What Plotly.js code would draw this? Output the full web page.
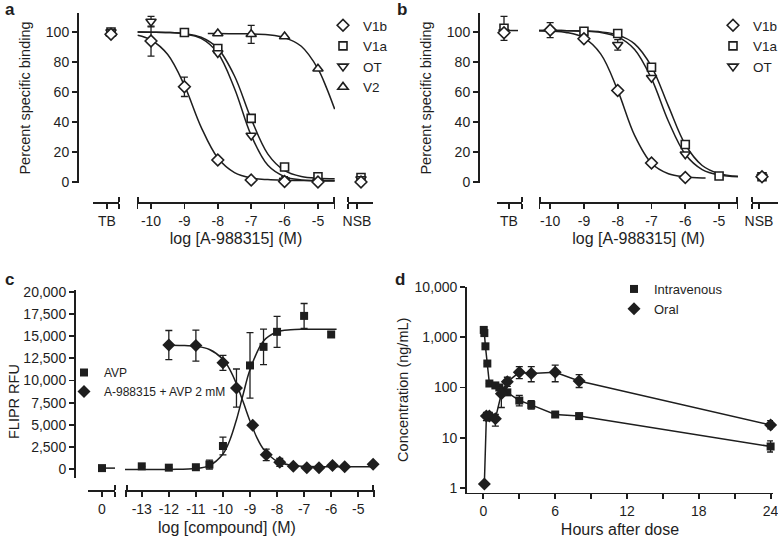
<!DOCTYPE html>
<html><head><meta charset="utf-8">
<script src="https://cdn.plot.ly/plotly-3.0.1.min.js"></script>
<style>html,body{margin:0;padding:0;background:#fff}#chart{width:778px;height:538px}</style>
</head><body><div id="chart"></div>
<script>
// ---------------- DATA ----------------
// Panel a (log M)
const a_V1b_x = [-10, -9, -8, -7, -6, -5];
const a_V1b_y = [94, 63.5, 14.7, 1.3, 0.3, 0];
const a_V1b_err = [10, 6.5, null, null, null, null];
const a_V1a_x = [-9, -8, -7, -6, -5];
const a_V1a_y = [99.7, 89, 42.4, 10, 3.5];
const a_V1a_err = [null, 2, null, null, null];
const a_OT_x = [-10, -8, -7, -6, -5];
const a_OT_y = [107, 86, 31, 1, 0.5];
const a_OT_err = [3.5, null, null, 2.5, null];
const a_V2_x = [-8, -7, -6, -5];
const a_V2_y = [99, 98.5, 97, 75.5];
const a_V2_err = [null, 6, null, null];
const a_TB_y = [98.5, 100, 100, 99];   // V1b, V1a, OT, V2
const a_NSB_y = [0, 3, 2, 1];
const a_fit_x = [-10.4, -10, -9.5, -9, -8.5, -8, -7.5, -7, -6.5, -6, -5.5, -5, -4.5];
const a_V1b_fit = [97.8, 94.7, 85.0, 64.4, 36.6, 16.0, 6.3, 2.7, 1.6, 1.2, 1.05, 1.0, 1.0];
const a_V1a_fit = [100, 99.9, 99.7, 98.9, 96.5, 89.1, 70.7, 42.1, 18.6, 7.6, 3.7, 2.5, 2.2];
const a_OT_fit = [100, 99.9, 99.7, 98.8, 95.8, 86.0, 62.4, 31.1, 11.1, 3.6, 1.4, 0.7, 0.6];
const a_V2_fit_x = [-8.3, -8, -7.5, -7, -6.5, -6, -5.5, -5, -4.75, -4.5];
const a_V2_fit = [99, 99, 98.9, 98.8, 98.2, 96.3, 90.5, 75.5, 63.1, 48.6];

// Panel b
const b_V1b_x = [-10, -9, -8, -7, -6];
const b_V1b_y = [101.3, 95.5, 61, 12.7, 3];
const b_V1b_err = [5, null, null, null, null];
const b_V1a_x = [-9, -8, -7, -6, -5];
const b_V1a_y = [100.5, 99, 76.5, 25, 4];
const b_OT_x = [-8, -7, -6];
const b_OT_y = [91.5, 69.5, 18.5];
const b_OT_err = [3.5, null, null];
const b_TB_y = [99.5, 102.5, 100];    // V1b, V1a, OT
const b_TB_err = [null, 8, null];
const b_NSB_y = [3.5, 3.5, 3.5];
const b_fit_x = [-10.33, -10, -9.5, -9, -8.5, -8, -7.5, -7, -6.5, -6, -5.5, -5, -4.44];
const b_V1b_fit_x = [-10.33, -10, -9.5, -9, -8.5, -8, -7.5, -7, -6.5, -6, -5.5, -5.4];
const b_V1b_fit = [100.8, 100.6, 99.6, 96.1, 85.3, 61.1, 31.1, 12.5, 5.5, 3.4, 2.7, 2.7];
const b_V1a_fit = [101, 101, 100.9, 100.7, 100.1, 98.1, 92.1, 77.0, 50.6, 25.0, 11.0, 5.6, 3.8];
const b_OT_fit = [101, 101, 100.9, 100.6, 99.7, 96.8, 88.4, 68.9, 40.5, 18.5, 8.3, 4.7, 3.5];
const b_TB_stub_x = [-0.5, 0.9];
const b_TB_stub_y = [101, 101];

// Panel c (log M, FLIPR RFU)
const c_AVP_x = [-13, -12, -11, -10.5, -10, -9, -8.5, -8, -7, -6];
const c_AVP_y = [300, 150, 200, 500, 2600, 11700, 13800, 15500, 17300, 15200];
const c_AVP_err = [null, null, null, 500, 1000, 3700, 2000, 1750, 1400, 300];
const c_AVP_zero_y = [100];
const c_ANT_x = [-12, -11, -10, -9.5, -8.9, -8.4, -7.9, -7.4, -6.9, -6.45, -5.95, -5.5, -4.45];
const c_ANT_y = [14000, 13950, 12000, 9150, 4950, 1600, 750, 300, 150, 150, 400, 250, 550];
const c_ANT_err = [1650, 1750, 850, 2150, null, 650, 450, null, null, null, null, null, null];
const c_AVP_fit_x = [-13.62, -12, -11, -10.5, -10, -9.75, -9.5, -9.25, -9, -8.5, -8, -7.5, -7, -6, -5.8];
const c_AVP_fit = [-50, -45, 47, 375, 1686, 3221, 5571, 8467, 11215, 14475, 15483, 15728, 15784, 15800, 15800];
const c_ANT_fit_x = [-12, -11.5, -11, -10.5, -10, -9.75, -9.5, -9.25, -9, -8.75, -8.5, -8, -7.5, -7, -6, -5, -4.38];
const c_ANT_fit = [13989, 13960, 13857, 13507, 12399, 11265, 9617, 7560, 5419, 3582, 2246, 878, 433, 302, 254, 250, 250];
const c_zero_stub_x = [0, 1.5];
const c_zero_stub_y = [100, 100];

// Panel d (hours, ng/mL)
const d_IV_t = [0.03, 0.08, 0.17, 0.33, 0.5, 1, 1.33, 1.67, 2, 3, 4, 6, 8, 24];
const d_IV_c = [1400, 1210, 660, 300, 120, 110, 100, 86, 80, 55, 45, 29, 27, 6.7];
const d_IV_errP = [null, null, null, null, null, null, null, null, null, 15, 10, 3, 3, 2];
const d_IV_errM = [null, null, null, null, null, null, null, null, null, 12, 8, 3, 3, 1.5];
const d_OR_t = [0.08, 0.25, 0.5, 1, 1.5, 2, 3, 4, 6, 8, 24];
const d_OR_c = [1.2, 27, 27, 24, 75, 130, 200, 190, 200, 135, 18];
const d_OR_errP = [null, 5, 5, 5, 25, 30, 60, 70, 80, 45, 4];
const d_OR_errM = [null, 5, 5, 7, 35, 25, 50, 60, 70, 35, 3];

// Tick labels
const abMainTicks = [-10, -9, -8, -7, -6, -5];
const abMainLabels = ['-10', '-9', '-8', '-7', '-6', '-5'];
const cMainTicks = [-13, -12, -11, -10, -9, -8, -7, -6, -5];
const cMainLabels = ['-13', '-12', '-11', '-10', '-9', '-8', '-7', '-6', '-5'];
const pctTicks = [0, 20, 40, 60, 80, 100];
const rfuTicks = [0, 2500, 5000, 7500, 10000, 12500, 15000, 17500, 20000];
const concTicks = [1, 10, 100, 1000, 10000];
const concLabels = ['1', '10', '100', '1,000', '10,000'];
const hourTicks = [0, 6, 12, 18, 24];

// ---------------- STYLE / LAYOUT ----------------
const INK = '#1e1e1e';
const FONT = 'Liberation Sans, Arial, Helvetica, sans-serif';
const TF = {family: FONT, size: 14, color: INK};
const XTITLEF = {family: FONT, size: 16, color: INK};
const YTITLEF = {family: FONT, size: 14.5, color: INK};
const W = 778, H = 538;
const X = p => p / W, Y = p => 1 - p / H;
const LW = 1.8;

function segAxis(L, R, range, tv, tt, yPos, capL, capR, title) {
  const vals = tv.slice(), txt = tt.slice(), caps = [];
  const e = (range[1] - range[0]) * 0.003;
  if (capL) { vals.push(range[0] + e); txt.push(''); caps.push(range[0] + 2.2 * e); }
  if (capR) { vals.push(range[1] - e); txt.push(''); caps.push(range[1] - 2.2 * e); }
  const ax = {
    domain: [X(L), X(R)], range: range, anchor: 'free', position: Y(yPos),
    showline: true, linecolor: INK, linewidth: LW, showgrid: false, zeroline: false,
    ticks: 'outside', ticklen: 5, tickwidth: LW, tickcolor: INK, ticklabeloverflow: 'allow',
    tickmode: 'array', tickvals: vals, ticktext: txt, tickfont: TF, fixedrange: true
  };
  if (caps.length) ax.minor = {tickmode: 'array', tickvals: caps, ticks: 'inside', ticklen: 5, tickwidth: LW, tickcolor: INK, showgrid: false};
  if (title) ax.title = {text: title, font: XTITLEF, standoff: 5};
  return ax;
}
function yAxis(xPos, top, bottom, range, tv, extra) {
  return Object.assign({
    domain: [Y(bottom), Y(top)], range: range, anchor: 'free', position: X(xPos),
    showline: true, linecolor: INK, linewidth: LW, showgrid: false, zeroline: false,
    ticks: 'outside', ticklen: 5, tickwidth: LW, tickcolor: INK, ticklabeloverflow: 'allow',
    tickmode: 'array', tickvals: tv, tickfont: TF, fixedrange: true
  }, extra || {});
}

const openM = (sym, size) => ({symbol: sym, size: size, color: 'white', line: {color: INK, width: 1.6}});
const fillM = (sym, size) => ({symbol: sym, size: size, color: INK, line: {color: INK, width: 0}});
const errY = arr => ({type: 'data', array: arr, visible: true, color: INK, thickness: 1.3, width: 3.5});
const errYA = (p, m) => ({type: 'data', symmetric: false, array: p, arrayminus: m, visible: true, color: INK, thickness: 1.3, width: 3.5});
function fit(x, y, xa, ya, shape) {
  return {x: x, y: y, xaxis: xa, yaxis: ya, mode: 'lines', showlegend: false, hoverinfo: 'skip',
    line: {color: INK, width: 1.5, shape: shape || 'spline', smoothing: 1}};
}
function pts(x, y, err, marker, xa, ya, name, legend, show, rank) {
  const t = {x: x, y: y, xaxis: xa, yaxis: ya, mode: 'markers', marker: marker, name: name,
    showlegend: !!show, cliponaxis: false, hoverinfo: 'skip'};
  if (legend) t.legend = legend;
  if (rank) t.legendrank = rank;
  if (err) t.error_y = err;
  return t;
}

// Segment x positions for TB / NSB (single category at 0)
const aTBx = [0.4], aNSBx = [0.4], bTBx = [-0.5], bNSBx = [0.3], cZeroX = [0];
const symA = ['diamond', 'square', 'triangle-down', 'triangle-up'];
const sizeA = [9, 8, 9, 9];

const traces = [];
// Panel a curves
traces.push(fit(a_fit_x, a_V1b_fit, 'x2', 'y'));
traces.push(fit(a_fit_x, a_V1a_fit, 'x2', 'y'));
traces.push(fit(a_fit_x, a_OT_fit, 'x2', 'y'));
traces.push(fit(a_V2_fit_x, a_V2_fit, 'x2', 'y'));
// TB / NSB a
[3, 1, 2, 0].forEach(i => {
  traces.push(pts(aTBx, [a_TB_y[i]], null, openM(symA[i], sizeA[i]), 'x', 'y', '', null, false));
  traces.push(pts(aNSBx, [a_NSB_y[i]], null, openM(symA[i], sizeA[i]), 'x3', 'y', '', null, false));
});
traces.push(pts(a_V2_x, a_V2_y, errY(a_V2_err), openM('triangle-up', 9), 'x2', 'y', 'V2', 'legend', true, 4));
traces.push(pts(a_V1a_x, a_V1a_y, errY(a_V1a_err), openM('square', 8), 'x2', 'y', 'V1a', 'legend', true, 2));
traces.push(pts(a_OT_x, a_OT_y, errY(a_OT_err), openM('triangle-down', 9), 'x2', 'y', 'OT', 'legend', true, 3));
traces.push(pts(a_V1b_x, a_V1b_y, errY(a_V1b_err), openM('diamond', 9), 'x2', 'y', 'V1b', 'legend', true, 1));

// Panel b
traces.push(fit(b_V1b_fit_x, b_V1b_fit, 'x5', 'y2'));
traces.push(fit(b_fit_x, b_V1a_fit, 'x5', 'y2'));
traces.push(fit(b_fit_x, b_OT_fit, 'x5', 'y2'));
traces.push(fit(b_TB_stub_x, b_TB_stub_y, 'x4', 'y2', 'linear'));
[2, 1, 0].forEach(i => {
  traces.push(pts(bTBx, [b_TB_y[i]], errY([b_TB_err[i]]), openM(symA[i], sizeA[i]), 'x4', 'y2', '', null, false));
  traces.push(pts(bNSBx, [b_NSB_y[i]], null, openM(symA[i], sizeA[i]), 'x6', 'y2', '', null, false));
});
traces.push(pts(b_OT_x, b_OT_y, errY(b_OT_err), openM('triangle-down', 9), 'x5', 'y2', 'OT', 'legend2', true, 3));
traces.push(pts(b_V1a_x, b_V1a_y, null, openM('square', 8), 'x5', 'y2', 'V1a', 'legend2', true, 2));
traces.push(pts(b_V1b_x, b_V1b_y, errY(b_V1b_err), openM('diamond', 9), 'x5', 'y2', 'V1b', 'legend2', true, 1));

// Panel c
traces.push(fit(c_AVP_fit_x, c_AVP_fit, 'x8', 'y3'));
traces.push(fit(c_ANT_fit_x, c_ANT_fit, 'x8', 'y3'));
traces.push(fit(c_zero_stub_x, c_zero_stub_y, 'x7', 'y3', 'linear'));
traces.push(pts(cZeroX, c_AVP_zero_y, null, fillM('square', 8), 'x7', 'y3', '', null, false));
traces.push(pts(c_AVP_x, c_AVP_y, errY(c_AVP_err), fillM('square', 8), 'x8', 'y3', 'AVP', 'legend3', true, 1));
traces.push(pts(c_ANT_x, c_ANT_y, errY(c_ANT_err), fillM('diamond', 10), 'x8', 'y3', 'A-988315 + AVP 2 mM', 'legend3', true, 2));

// Panel d
traces.push(fit(d_IV_t, d_IV_c, 'x9', 'y4', 'linear'));
traces.push(fit(d_OR_t, d_OR_c, 'x9', 'y4', 'linear'));
traces.push(pts(d_IV_t, d_IV_c, errYA(d_IV_errP, d_IV_errM), fillM('square', 8), 'x9', 'y4', 'Intravenous', 'legend4', true, 1));
traces.push(pts(d_OR_t, d_OR_c, errYA(d_OR_errP, d_OR_errM), fillM('diamond', 10), 'x9', 'y4', 'Oral', 'legend4', true, 2));

const legendBase = (x, y, size) => ({x: X(x), y: Y(y), xanchor: 'left', yanchor: 'top',
  font: {family: FONT, size: size, color: INK}, bgcolor: 'rgba(0,0,0,0)', borderwidth: 0,
  itemwidth: 30, traceorder: 'normal', itemclick: false, itemdoubleclick: false});

const letter = (t, x, y) => ({text: '<b>' + t + '</b>', x: X(x), y: Y(y), xref: 'paper', yref: 'paper',
  showarrow: false, xanchor: 'center', yanchor: 'middle', font: {family: FONT, size: 17, color: INK}});

const layout = {
  width: W, height: H, margin: {l: 0, r: 0, t: 0, b: 0, autoexpand: false},
  paper_bgcolor: '#fff', plot_bgcolor: 'rgba(0,0,0,0)', font: {family: FONT, color: INK},
  showlegend: true,
  // Panel a
  xaxis: segAxis(93, 119, [-1.4, 1.2], [0], ['TB'], 202, false, true),
  xaxis2: segAxis(137, 335, [-10.42, -4.49], abMainTicks, abMainLabels, 202, true, true, 'log [A-988315] (M)'),
  xaxis3: segAxis(348, 373, [-0.9, 1.6], [0], ['NSB'], 202, true, false),
  yaxis: yAxis(77, 13, 183, [-0.67, 112.7], pctTicks, {title: {text: 'Percent specific binding', font: YTITLEF, standoff: 10}}),
  // Panel b
  xaxis4: segAxis(497, 522, [-1.2, 1.3], [0], ['TB'], 202, false, true),
  xaxis5: segAxis(539, 738, [-10.33, -4.44], abMainTicks, abMainLabels, 202, true, true, 'log [A-988315] (M)'),
  xaxis6: segAxis(752, 778, [-0.7, 1.9], [0], ['NSB'], 202, true, false),
  yaxis2: yAxis(478, 13, 183, [-0.67, 112.7], pctTicks, {title: {text: 'Percent specific binding', font: YTITLEF, standoff: 10}}),
  // Panel c
  xaxis7: segAxis(88, 115, [-1.4, 1.3], [0], ['0'], 490, false, true),
  xaxis8: segAxis(125, 375, [-13.62, -4.38], cMainTicks, cMainLabels, 490, true, true),
  yaxis3: yAxis(74, 290, 478, [-1017, 20226], rfuTicks, {tickformat: ',d'}),
  // Panel d
  xaxis9: {domain: [X(467), X(773)], range: [-1.37, 24.2], anchor: 'y4', showline: true, linecolor: INK, linewidth: LW,
    showgrid: false, zeroline: false, ticks: 'outside', ticklen: 5, tickwidth: LW, tickcolor: INK, ticklabeloverflow: 'allow',
    tickmode: 'array', tickvals: hourTicks, tickfont: TF, fixedrange: true,
    minor: {tick0: 0, dtick: 3, ticks: 'outside', ticklen: 5, tickwidth: LW, tickcolor: INK, showgrid: false},
    title: {text: 'Hours after dose', font: XTITLEF, standoff: 12}},
  yaxis4: {domain: [Y(492.5), Y(287)], type: 'log', range: [-0.0896, 4], anchor: 'x9', showline: true, linecolor: INK,
    linewidth: LW, showgrid: false, zeroline: false, ticks: 'outside', ticklen: 5, tickwidth: LW, tickcolor: INK,
    ticklabeloverflow: 'allow',
    tickmode: 'array', tickvals: concTicks, ticktext: concLabels, tickfont: TF, fixedrange: true,
    title: {text: 'Concentration (ng/mL)', font: YTITLEF, standoff: 2}},
  legend: legendBase(323, 10, 13.5),
  legend2: legendBase(713, 10, 13.5),
  legend3: legendBase(64, 358, 12),
  legend4: legendBase(614, 274, 13),
  annotations: [
    letter('a', 10, 9), letter('b', 402, 9), letter('c', 9, 279), letter('d', 400, 279),
    {text: 'log [compound] (M)', x: X(227), y: Y(527), xref: 'paper', yref: 'paper', showarrow: false,
      xanchor: 'center', yanchor: 'middle', font: XTITLEF},
    {text: 'FLIPR RFU', x: X(14), y: Y(402), xref: 'paper', yref: 'paper', showarrow: false, textangle: -90,
      xanchor: 'center', yanchor: 'middle', font: YTITLEF}
  ]
};

Plotly.newPlot('chart', traces, layout, {displayModeBar: false, staticPlot: true});
</script></body></html>
